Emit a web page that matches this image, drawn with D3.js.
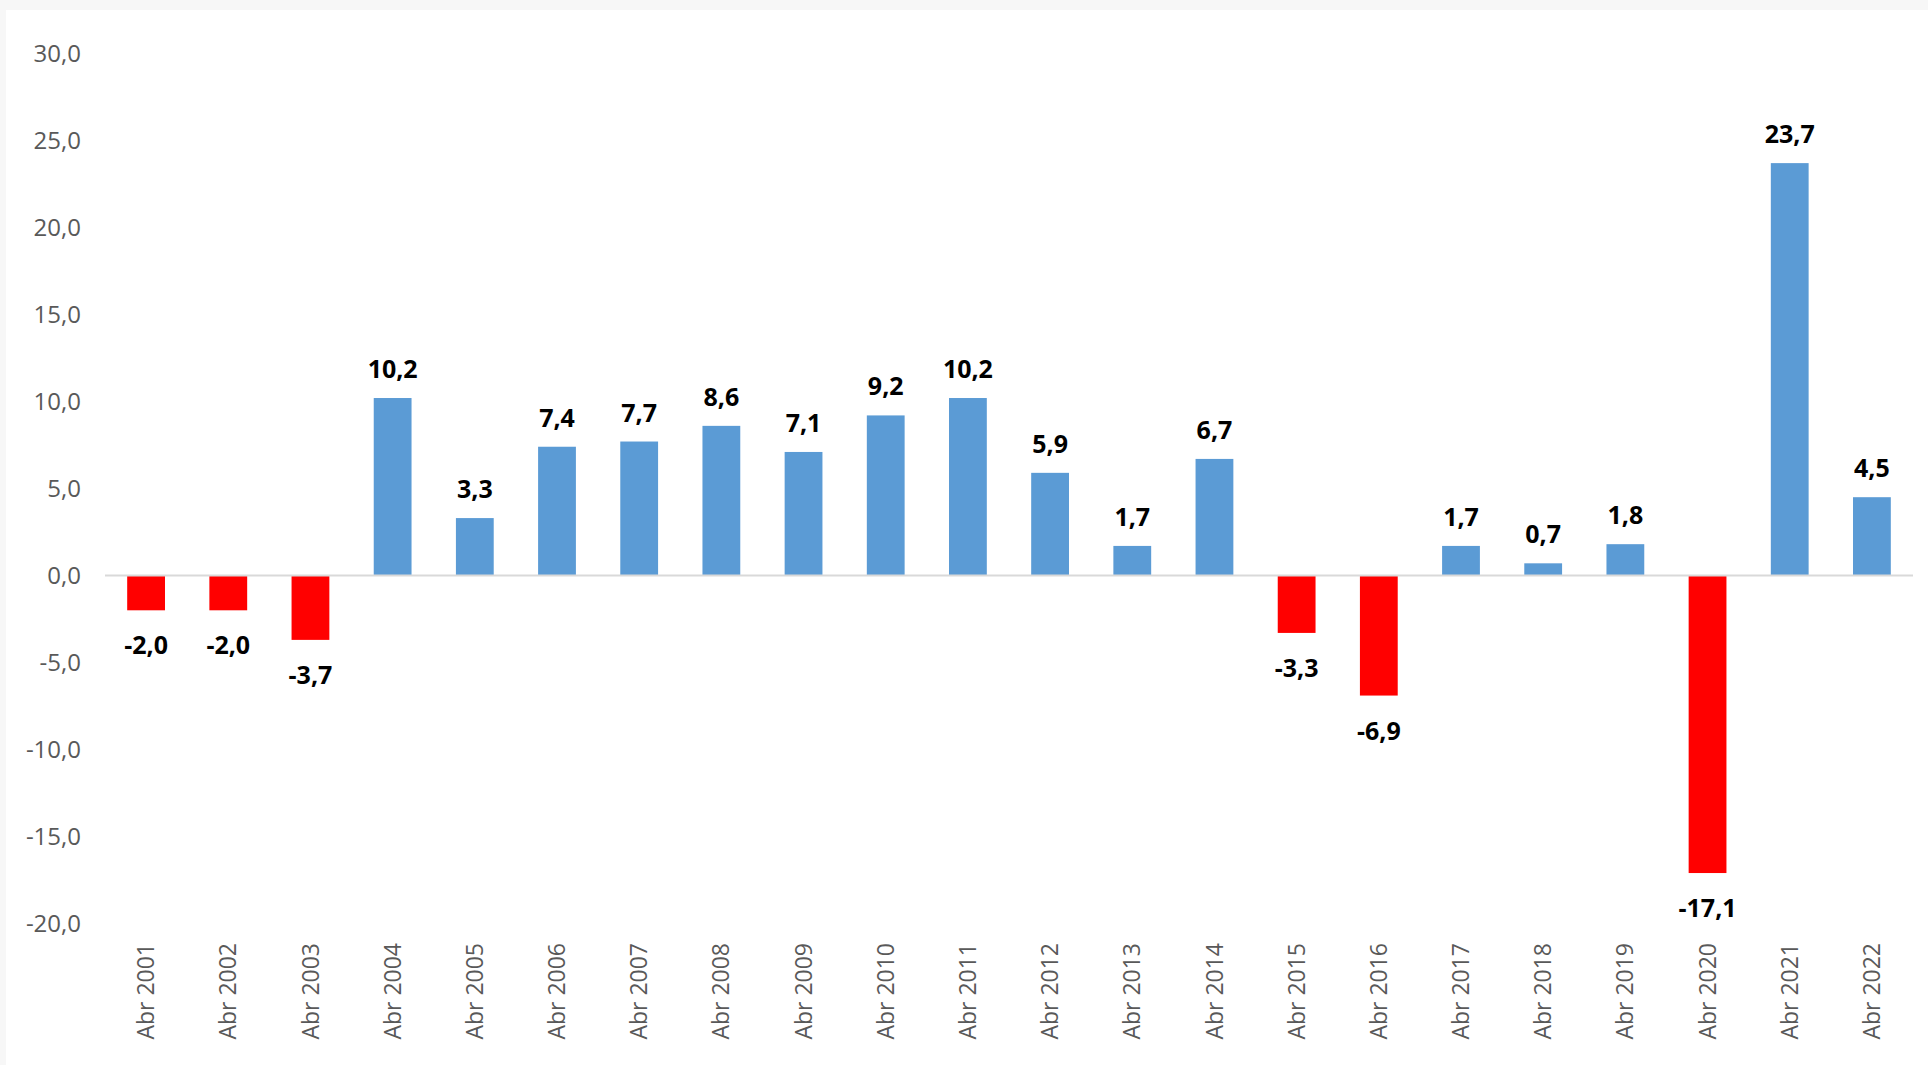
<!DOCTYPE html>
<html>
<head>
<meta charset="utf-8">
<script src="https://cdn.jsdelivr.net/npm/d3@7"></script>
<style>
	html, body { margin: 0; padding: 0; background: #f7f7f7; }
	svg { display: block; }
	text { font-family: "Open Sans", "Noto Sans", sans-serif; }
</style>
</head>
<body>
<svg id="chart"></svg>
<script>
// data
const categories = ['Abr 2001', 'Abr 2002', 'Abr 2003', 'Abr 2004', 'Abr 2005', 'Abr 2006',
	'Abr 2007', 'Abr 2008', 'Abr 2009', 'Abr 2010', 'Abr 2011', 'Abr 2012', 'Abr 2013',
	'Abr 2014', 'Abr 2015', 'Abr 2016', 'Abr 2017', 'Abr 2018', 'Abr 2019', 'Abr 2020',
	'Abr 2021', 'Abr 2022'];
const values = [-2.0, -2.0, -3.7, 10.2, 3.3, 7.4, 7.7, 8.6, 7.1, 9.2, 10.2, 5.9, 1.7,
	6.7, -3.3, -6.9, 1.7, 0.7, 1.8, -17.1, 23.7, 4.5];
const yTicks = [30, 25, 20, 15, 10, 5, 0, -5, -10, -15, -20];

let width = 1928;
let height = 1065;

let svg = d3.select('#chart')
	.attr('width', width)
	.attr('height', height);

// white chart area inside the light grey page border
svg.append('rect')
	.attr('x', 6)
	.attr('y', 10)
	.attr('width', width - 6)
	.attr('height', height - 10)
	.attr('fill', '#ffffff');

let x = d3.scaleBand()
	.domain(categories)
	.range([105, 1913])
	.paddingInner(0.54)
	.paddingOuter(0.27);

let y = d3.scaleLinear()
	.domain([-20, 30])
	.range([923.5, 53.5]);

let fmt = v => d3.format('.1f')(v).replace('.', ',').replace('−', '-');

// y tick labels (no axis line, no gridlines)
svg.append('g')
	.selectAll('text')
	.data(yTicks)
	.enter()
	.append('text')
	.attr('x', 81)
	.attr('y', d => y(d))
	.attr('dy', '0.35em')
	.attr('text-anchor', 'end')
	.attr('fill', '#595959')
	.attr('font-size', 24)
	.text(fmt);

// bars
svg.append('g')
	.selectAll('rect')
	.data(values)
	.enter()
	.append('rect')
	.attr('x', (d, i) => x(categories[i]))
	.attr('width', x.bandwidth())
	.attr('y', d => y(Math.max(0, d)))
	.attr('height', d => Math.abs(y(d) - y(0)))
	.attr('fill', d => d < 0 ? '#ff0000' : '#5b9bd5');

// zero line
svg.append('line')
	.attr('x1', 105)
	.attr('x2', 1913)
	.attr('y1', y(0))
	.attr('y2', y(0))
	.attr('stroke', '#d9d9d9')
	.attr('stroke-width', 2);

// value labels
svg.append('g')
	.selectAll('text')
	.data(values)
	.enter()
	.append('text')
	.attr('x', (d, i) => x(categories[i]) + x.bandwidth() / 2)
	.attr('y', d => d < 0 ? y(d) + 44 : y(d) - 20)
	.attr('text-anchor', 'middle')
	.attr('font-size', 25)
	.attr('font-weight', 'bold')
	.attr('fill', '#000000')
	.text(fmt);

// rotated category labels
svg.append('g')
	.selectAll('text')
	.data(categories)
	.enter()
	.append('text')
	.attr('transform', d => `translate(${x(d) + x.bandwidth() / 2},943) rotate(-90)`)
	.attr('dy', '0.35em')
	.attr('text-anchor', 'end')
	.attr('fill', '#595959')
	.attr('font-size', 23)
	.text(d => d);
</script>
</body>
</html>
